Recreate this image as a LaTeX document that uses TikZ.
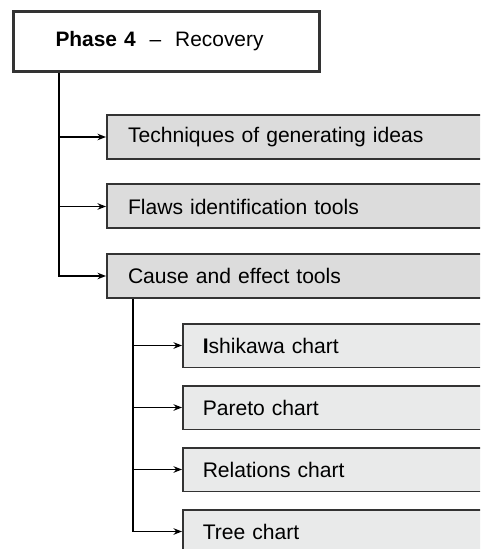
\documentclass[tikz,border=0pt]{standalone}
\usepackage{xcolor}
\usepackage{fontspec}
\setmainfont{Liberation Sans}
\usepackage{tikz}
\usetikzlibrary{positioning, arrows.meta}

\definecolor{edgegray}{HTML}{333333}
\definecolor{boxgray}{HTML}{DCDCDC}
\definecolor{subgray}{HTML}{E9EAEA}

\begin{document}
\begin{tikzpicture}[
    phase/.style={rectangle, draw=edgegray, line width=0.06cm, fill=white, text width=4.44cm, inner xsep=0.84cm, minimum height=1.2cm, align=left, font=\fontsize{11.9}{14}\selectfont},
    method/.style={rectangle, draw=edgegray, line width=0.04cm, fill=boxgray, text width=7.42cm, inner xsep=0.42cm, minimum height=0.88cm, align=left, font=\fontsize{12}{14}\selectfont},
    chart/.style={rectangle, draw=edgegray, line width=0.03cm, fill=subgray, text width=5.94cm, inner xsep=0.4cm, minimum height=0.87cm, align=left, font=\fontsize{12}{14}\selectfont},
    arrow/.style={-{Stealth[length=1.7mm, width=1.3mm]}, line width=0.03cm}
]

\useasboundingbox (0,0) rectangle (9.6,-10.98);
\clip (0,0) rectangle (9.6,-10.98);

% Phase
\node[phase, anchor=north west] (phase) at (0.24,-0.2) {\textbf{Phase 4}~~--~~Recovery};

% Methods
\node[method, below=0.82cm of phase.south west, anchor=north west, xshift=1.88cm] (tec) {Techniques of generating ideas};
\node[method, below=0.47cm of tec] (fla) {Flaws identification tools};
\node[method, below=0.47cm of fla] (cau) {Cause and effect tools};

% Charts
\node[chart, below=0.48cm of cau.south west, anchor=north west, xshift=1.52cm] (ish) {\textbf{I}shikawa chart};
\node[chart, below=0.34cm of ish] (par) {Pareto chart};
\node[chart, below=0.34cm of par] (rel) {Relations chart};
\node[chart, below=0.34cm of rel] (tre) {Tree chart};

% Trunks
\coordinate (t1) at ([xshift=0.94cm]phase.south west);
\coordinate (t2) at ([xshift=0.54cm]cau.south west);

% Arrows
\draw[arrow] (t1) |- (tec);
\draw[arrow] (t1) |- (fla);
\draw[arrow] (t1) |- (cau);

\draw[arrow] (t2) |- (ish);
\draw[arrow] (t2) |- (par);
\draw[arrow] (t2) |- (rel);
\draw[arrow] (t2) |- (tre);

\end{tikzpicture}
\end{document}
